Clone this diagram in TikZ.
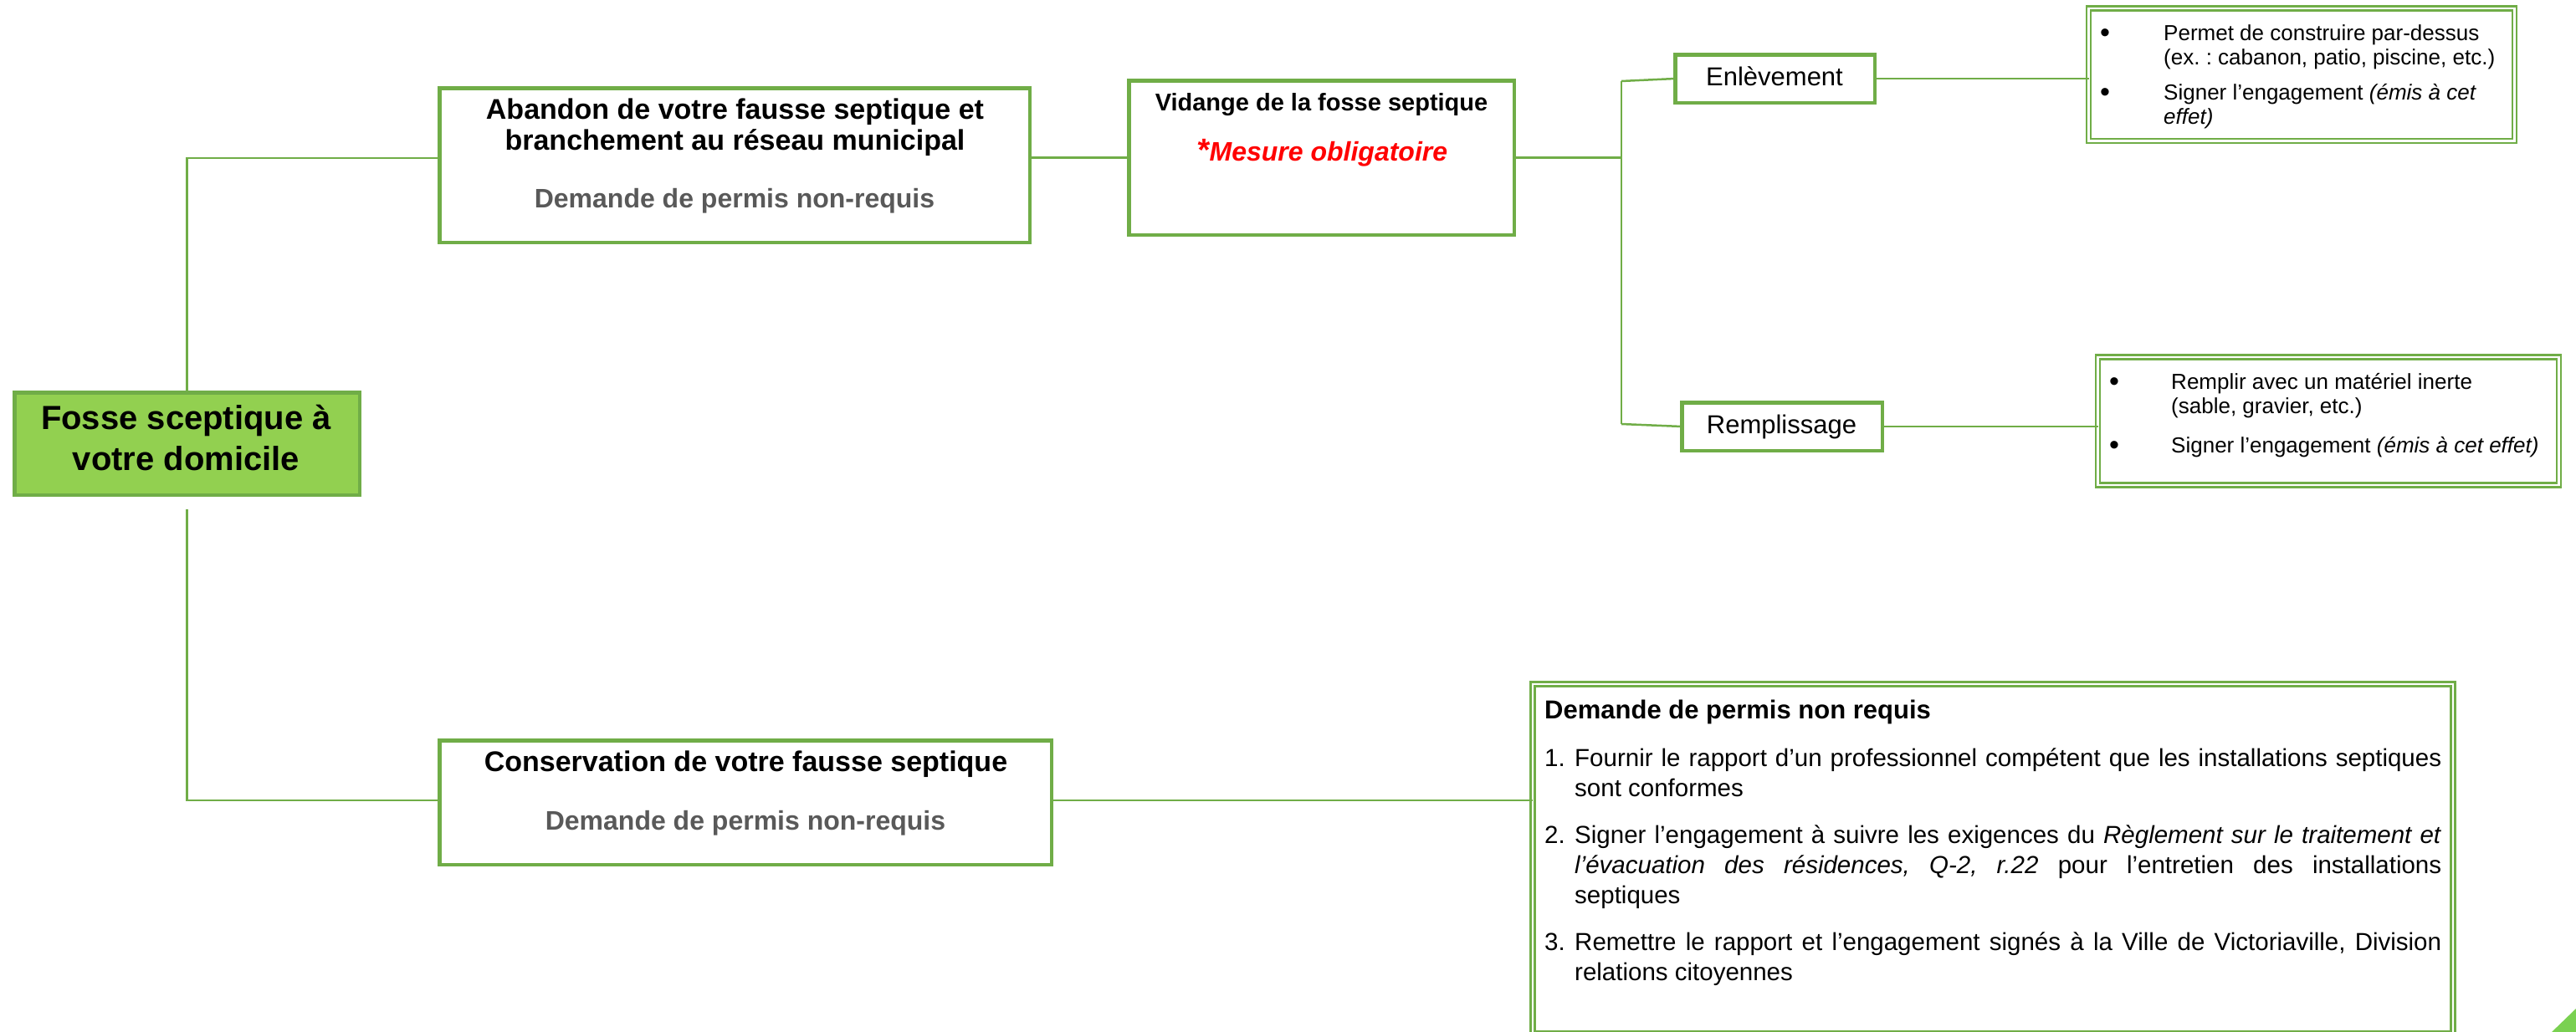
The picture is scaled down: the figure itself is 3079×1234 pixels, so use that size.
\documentclass[tikz,border=0pt]{standalone}
\usepackage{fontspec}
\setmainfont{Liberation Sans}
\usetikzlibrary{calc}
\definecolor{gr}{HTML}{70AD47}
\definecolor{rootfill}{HTML}{92D050}
\definecolor{graytxt}{HTML}{595959}
\definecolor{tri}{HTML}{7AD151}
\newcommand\myfs[1]{\fontsize{#1pt}{#1pt}\selectfont}
\begin{document}
\frenchspacing
\begin{tikzpicture}[x=1pt,y=-1pt,
  box/.style={draw=gr, line width=4.5pt, fill=white, inner sep=0pt, outer sep=0pt},
  dbox/.style={draw=gr, double=white, line width=2.5pt, double distance=2.5pt, inner sep=0pt, outer sep=0pt},
  conn/.style={draw=gr, line width=2.5pt},
  txt/.style={inner sep=0pt, anchor=base},
  ltxt/.style={inner sep=0pt, anchor=base west},
  bodyA/.style={ltxt, font={\myfs{26}}},
  bodyB/.style={ltxt, font={\myfs{29.5}}},
  bul/.style={txt, font={\myfs{34}}},
]
\useasboundingbox (0,0) rectangle (3079,1234);

% boxes
\node[box, fill=rootfill, minimum width=412.5pt, minimum height=122.5pt] (root) at (223.5,530.5) {};
\node[box, minimum width=705.5pt, minimum height=184.5pt] (aban) at (878,197.5) {};
\node[box, minimum width=460.5pt, minimum height=184.5pt] (vid) at (1579.5,188.5) {};
\node[box, minimum width=238.5pt, minimum height=57.5pt] (enl) at (2121.5,94) {};
\node[box, minimum width=239.5pt, minimum height=57.5pt] (rem) at (2130,510) {};
\node[box, minimum width=731.5pt, minimum height=148.5pt] (cons) at (891,959.5) {};
\node[dbox, minimum width=509pt, minimum height=158.5pt] (det1) at (2751,89.25) {};
\node[dbox, minimum width=551pt, minimum height=153pt] (det2) at (2783,503.5) {};
\node[dbox, minimum width=1100pt, minimum height=418pt] (big) at (2382,1027) {};

% connectors
\coordinate (yab) at (0,189);
\coordinate (rootlow) at (223.5,609);
\coordinate (ycons) at (0,957);
\coordinate (jx) at (1938,0);
\coordinate (jtop) at (1938,97);
\coordinate (jbot) at (1938,507);
\draw[conn] (root.north) |- (aban.west |- yab);
\draw[conn] (rootlow) |- (cons.west |- ycons);
\draw[conn] (aban.east |- vid.west) -- (vid.west);
\draw[conn] (vid.east) -- (vid.east -| jx);
\draw[conn] (jtop) -- (jbot);
\draw[conn] (jtop) -- (enl.west);
\draw[conn] (jbot) -- (rem.west);
\draw[conn] (enl.east) -- (det1.west |- enl.east);
\draw[conn] (rem.east) -- (det2.west |- rem.east);
\draw[conn] (cons.east |- ycons) -- (big.west |- ycons);

% texts
\node[txt, font={\bfseries\myfs{40}}] (rootA) at (222.5,513) {Fosse sceptique à};
\node[txt, font={\bfseries\myfs{40}}] (rootB) at (222.5,562) {votre domicile};

\node[txt, font={\bfseries\myfs{34}}] (abanA) at (878.5,142) {Abandon de votre fausse septique et};
\node[txt, font={\bfseries\myfs{34}}] (abanB) at (878.5,179) {branchement au réseau municipal};
\node[txt, font={\bfseries\myfs{32}}, text=graytxt] (abanC) at (878,248) {Demande de permis non-requis};

\node[txt, font={\bfseries\myfs{29}}] (vidA) at (1579.5,132) {Vidange de la fosse septique};
\node[txt, font={\bfseries\itshape\myfs{32}}, text=red] (vidB) at (1580.5,192) {{\myfs{38}*}Mesure obligatoire};

\node[txt, font={\myfs{31}}] (enlT) at (2121,102) {Enlèvement};
\node[txt, font={\myfs{31}}] (remT) at (2129.5,518) {Remplissage};

\node[txt, font={\bfseries\myfs{34}}] (consA) at (891.5,922) {Conservation de votre fausse septique};
\node[txt, font={\bfseries\myfs{32}}, text=graytxt] (consB) at (891,992) {Demande de permis non-requis};

% detail 1
\node[bul] (b1) at (2516,50) {\textbullet};
\node[bodyA] (d1a) at (2586,48) {Permet de construire par-dessus};
\node[bodyA] (d1b) at (2586,77) {(ex. : cabanon, patio, piscine, etc.)};
\node[bul] (b2) at (2516,121) {\textbullet};
\node[bodyA] (d1c) at (2586,119) {Signer l’engagement \textit{(émis à cet}};
\node[bodyA] (d1d) at (2586,148) {\textit{effet)}};

% detail 2
\node[bul] (b3) at (2527,467) {\textbullet};
\node[bodyA] (d2a) at (2595,465) {Remplir avec un matériel inerte};
\node[bodyA] (d2b) at (2595,494) {(sable, gravier, etc.)};
\node[bul] (b4) at (2527,543) {\textbullet};
\node[bodyA] (d2c) at (2595,541) {Signer l’engagement \textit{(émis à cet effet)}};

% big box
\node[ltxt, font={\bfseries\myfs{31}}] (bigH) at (1846,859) {Demande de permis non requis};
\node[bodyB] (n1) at (1846,916) {1.};
\node[bodyB] (l1a) at (1882,916) {\makebox[1036pt][s]{Fournir le rapport d’un professionnel compétent que les installations septiques}};
\node[bodyB] (l1b) at (1882,952) {sont conformes};
\node[bodyB] (n2) at (1846,1008) {2.};
\node[bodyB] (l2a) at (1882,1008) {\makebox[1036pt][s]{Signer l’engagement à suivre les exigences du \textit{Règlement sur le traitement et}}};
\node[bodyB] (l2b) at (1882,1044) {\makebox[1036pt][s]{\textit{l’évacuation des résidences, Q-2, r.22} pour l’entretien des installations}};
\node[bodyB] (l2c) at (1882,1080) {septiques};
\node[bodyB] (n3) at (1846,1136) {3.};
\node[bodyB] (l3a) at (1882,1136) {\makebox[1036pt][s]{Remettre le rapport et l’engagement signés à la Ville de Victoriaville, Division}};
\node[bodyB] (l3b) at (1882,1172) {relations citoyennes};

% corner triangle
\fill[tri] (3050,1234) -- (3079,1234) -- (3079,1206) -- cycle;
\end{tikzpicture}
\end{document}
